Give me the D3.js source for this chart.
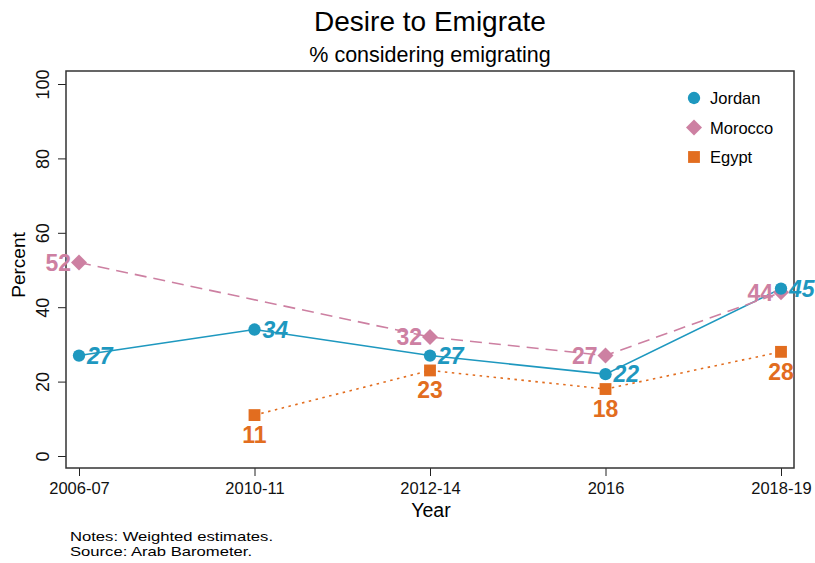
<!DOCTYPE html>
<html><head><meta charset="utf-8">
<script src="https://cdn.jsdelivr.net/npm/d3@7"></script>
<style>body{margin:0;background:#fff}svg{font-family:"Liberation Sans",Arial,Helvetica,sans-serif}</style>
</head><body><svg id="c" width="815" height="563"></svg>
<script>
const years = ["2006-07","2010-11","2012-14","2016","2018-19"];
const jordan = [27, 34, 27, 22, 45];
const morocco = [52, null, 32, 27, 44];
const egypt = [null, 11, 23, 18, 28];
const yTicks = [0, 20, 40, 60, 80, 100];
const seriesNames = ["Jordan", "Morocco", "Egypt"];
const colors = {Jordan:"#1e98bf", Morocco:"#cd80a2", Egypt:"#e26d1f"};

const svg = d3.select("#c");
const L=66,R=794,T=71,B=468;
const x = d3.scalePoint().domain(years).range([79,781]);
const y = d3.scaleLinear().domain([0,100]).range([456,84]);

svg.append("text").attr("x",430).attr("y",31).attr("text-anchor","middle").attr("font-size",28).text("Desire to Emigrate");
svg.append("text").attr("x",430).attr("y",62).attr("text-anchor","middle").attr("font-size",21.5).text("% considering emigrating");

// axes
const ya = svg.append("g").attr("transform",`translate(${L},0)`).call(d3.axisLeft(y).tickValues(yTicks).tickSize(8).tickSizeOuter(0));
ya.select(".domain").remove();
ya.selectAll("line").attr("stroke","#222");
ya.selectAll(".tick text").attr("font-size",18).attr("fill","#111")
  .attr("transform","translate(-17.5,0) rotate(-90)").attr("x",0).attr("y",0).attr("dy",0).attr("text-anchor","middle");
const xa = svg.append("g").attr("transform",`translate(0,${B})`).call(d3.axisBottom(x).tickSize(8).tickSizeOuter(0));
xa.select(".domain").remove();
xa.selectAll("line").attr("stroke","#222");
xa.selectAll("text").attr("font-size",16.5).attr("fill","#111").attr("y",26).attr("dy",0);

svg.append("rect").attr("x",L).attr("y",T).attr("width",R-L).attr("height",B-T).attr("fill","none").attr("stroke","#333").attr("stroke-width",1.5);

svg.append("text").attr("transform",`translate(25,265) rotate(-90)`).attr("text-anchor","middle").attr("font-size",19).text("Percent");
svg.append("text").attr("x",431).attr("y",517).attr("text-anchor","middle").attr("font-size",19.5).text("Year");
svg.append("text").attr("x",70).attr("y",541).attr("font-size",13.5).attr("textLength",203).attr("lengthAdjust","spacingAndGlyphs").text("Notes: Weighted estimates.");
svg.append("text").attr("x",70).attr("y",556).attr("font-size",13.5).attr("textLength",182).attr("lengthAdjust","spacingAndGlyphs").text("Source: Arab Barometer.");

function pts(vals){return years.map((yr,i)=>({yr,v:vals[i]})).filter(d=>d.v!=null);}
const line = d3.line().x(d=>x(d.yr)).y(d=>y(d.v));
const dashes = {Jordan:null, Morocco:"12,7", Egypt:"2.5,4.5"};
const data = {Jordan:jordan, Morocco:morocco, Egypt:egypt};
const g = svg.append("g");
["Egypt","Jordan","Morocco"].forEach(s=>{
  g.append("path").datum(pts(data[s])).attr("d",line).attr("fill","none").attr("stroke",colors[s])
   .attr("stroke-width",1.6).attr("stroke-dasharray",dashes[s]);
});
const sym = {Jordan:d3.symbolCircle, Morocco:d3.symbolDiamond, Egypt:d3.symbolSquare};
const size = {Jordan:120, Morocco:150, Egypt:140};
function marker(sel,s){
  if(s==="Morocco"){ sel.attr("d","M0,-8L8,0L0,8L-8,0Z"); }
  else sel.attr("d",d3.symbol(sym[s],size[s])());
}
["Egypt","Morocco","Jordan"].forEach(s=>{
  const p=pts(data[s]);
  g.selectAll(null).data(p).join("path").attr("transform",d=>`translate(${x(d.yr)},${y(d.v)})`)
   .attr("fill",colors[s]).call(marker,s);
});
// labels
const lab = svg.append("g").attr("font-weight","bold").attr("font-size",23);
lab.selectAll(null).data(pts(morocco)).join("text").attr("x",d=>x(d.yr)-8).attr("y",d=>y(d.v)+8.5)
  .attr("text-anchor","end").attr("fill",colors.Morocco).text(d=>d.v);
lab.selectAll(null).data(pts(jordan)).join("text").attr("x",d=>x(d.yr)+8).attr("y",d=>y(d.v)+8)
  .attr("font-style","italic").attr("fill",colors.Jordan).text(d=>d.v);
lab.selectAll(null).data(pts(egypt)).join("text").attr("x",d=>x(d.yr)).attr("y",d=>y(d.v)+28)
  .attr("text-anchor","middle").attr("fill",colors.Egypt).text(d=>d.v);

// legend
const lg = svg.append("g").attr("font-size",16.5);
seriesNames.forEach((s,i)=>{
  const yy = 98 + i*29.5;
  lg.append("path").attr("transform",`translate(694,${yy})`).attr("fill",colors[s]).call(marker,s);
  lg.append("text").attr("x",710).attr("y",yy+6).text(s);
});
</script></body></html>
